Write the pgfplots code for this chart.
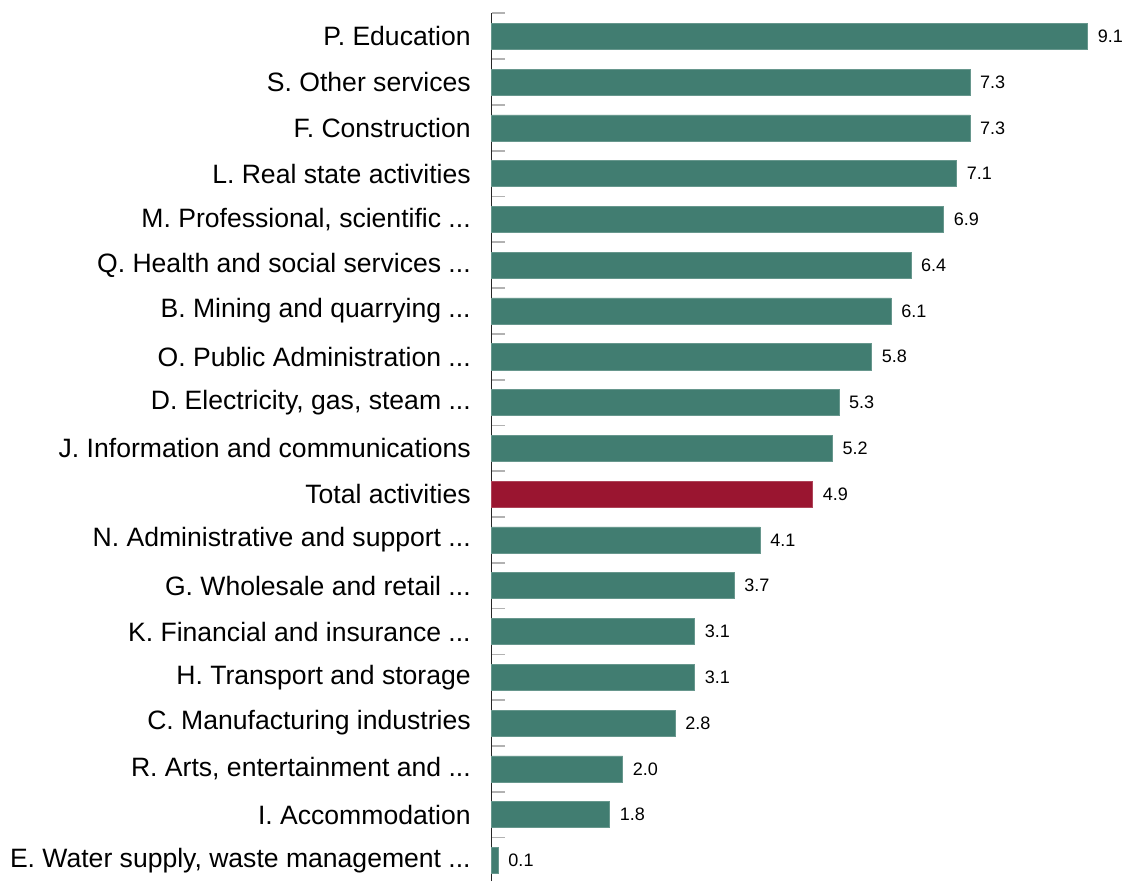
\documentclass[border=0pt]{standalone}
\usepackage{pgfplots}
\pgfplotsset{compat=1.18}
\usepackage{fontspec}
\setmainfont{Liberation Sans}
\definecolor{teal1}{HTML}{417D71}
\definecolor{red1}{HTML}{9A1530}
\newcommand\dd{...}
\begin{document}
\begin{tikzpicture}
\begin{axis}[
  name=ax,
  scale only axis,
  width=471pt, height=650pt,
  xmin=0, xmax=9.6,
  ymin=-0.45, ymax=18.5,
  xbar, bar width=19.5pt, bar shift=0pt,
  axis x line=none,
  axis y line*=left,
  y axis line style={line width=1.2pt, color=black!85},
  ytick={0,1,2,3,4,5,6,7,8,9,10,11,12,13,14,15,16,17,18},
  yticklabels={{E. Water supply, waste management \dd},{I. Accommodation},{R. Arts, entertainment and \dd},{C. Manufacturing industries},{H. Transport and storage},{K. Financial and insurance \dd},{G. Wholesale and retail \dd},{N. Administrative and support \dd},{Total activities},{J. Information and communications},{D. Electricity, gas, steam \dd},{O. Public Administration \dd},{B. Mining and quarrying \dd},{Q. Health and social services \dd},{M. Professional, scientific \dd},{L. Real state activities},{F. Construction},{S. Other services},{P. Education}},
  major tick length=0pt,
  minor ytick={-0.5,0.5,1.5,2.5,3.5,4.5,5.5,6.5,7.5,8.5,9.5,10.5,11.5,12.5,13.5,14.5,15.5,16.5,17.5,18.5},
  minor tick length=10pt,
  tick align=inside,
  minor tick style={color=black!30, line width=1.3pt},
  yticklabel style={font=\fontsize{19.9}{22}\selectfont, inner sep=0pt, xshift=-15.5pt, anchor=east},
  nodes near coords,
  nodes near coords style={font=\fontsize{13.5}{15}\selectfont, anchor=west, inner sep=0pt, xshift=7.5pt,
    /pgf/number format/.cd, fixed, zerofill, precision=1, assume math mode=true},
  clip=false,
]
\addplot[fill=teal1, draw=teal1!80!white, line width=0.4pt] coordinates {
(9.1,18) (7.3,17) (7.3,16) (7.1,15) (6.9,14) (6.4,13) (6.1,12) (5.8,11) (5.3,10) (5.2,9)
(4.1,7) (3.7,6) (3.1,5) (3.1,4) (2.8,3) (2.0,2) (1.8,1) (0.1,0)};
\addplot[fill=red1, draw=red1!80!white, line width=0.4pt] coordinates {(4.9,8)};
\end{axis}
\path (ax.north west) ++(0,10pt);
\path (current bounding box.west) ++(-7.5pt,0);
\end{tikzpicture}
\end{document}
